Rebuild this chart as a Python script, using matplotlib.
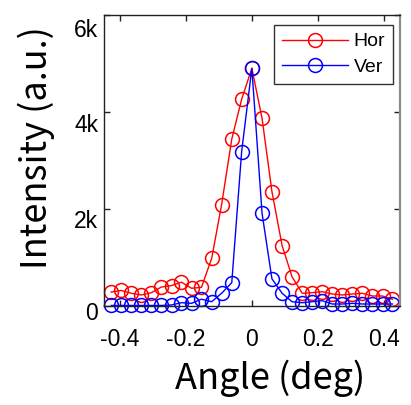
import matplotlib
matplotlib.use("Agg")
import matplotlib.pyplot as plt
import matplotlib.transforms as mtransforms

# angle (deg) of each sample
angle = [-0.427, -0.397, -0.366, -0.336, -0.305, -0.275, -0.244, -0.214,
         -0.183, -0.153, -0.122, -0.092, -0.061, -0.031, 0.0,
         0.031, 0.061, 0.092, 0.122, 0.153, 0.183, 0.214, 0.244,
         0.275, 0.305, 0.336, 0.366, 0.397, 0.427]

hor = [280, 315, 256, 221, 268, 385, 415, 485, 359, 379, 977, 2076, 3435, 4256, 4895,
       3864, 2351, 1237, 598, 256, 268, 289, 241, 221, 241, 256, 200, 200, 132]

ver = [5, 5, 5, 5, 5, 5, 15, 62, 49, 135, 82, 256, 474, 3176, 4895,
       1905, 555, 256, 82, 62, 82, 103, 35, 35, 49, 35, 35, 35, 35]

x_ticks = [-0.4, -0.2, 0, 0.2, 0.4]
x_tick_labels = ["-0.4", "-0.2", "0", "0.2", "0.4"]
y_ticks = [0, 2000, 4000, 6000]
y_tick_labels = ["0", "2k", "4k", "6k"]

W, H = 411, 405
fig = plt.figure(figsize=(W / 100, H / 100), dpi=100)
ax = fig.add_axes([103.7 / W, 1 - 305.7 / H, (400 - 103.7) / W, (305.7 - 14.7) / H])

marker_kw = dict(marker="o", markersize=10, markerfacecolor="none",
                 markeredgewidth=1.1, linewidth=1.0, clip_on=False)
ax.plot(angle, hor, color="red", label="Hor", **marker_kw)
ax.plot(angle, ver, color="blue", label="Ver", **marker_kw)

ax.set_xlim(-0.45, 0.45)
ax.set_ylim(0, 6000)
ax.set_xticks(x_ticks)
ax.set_xticklabels(x_tick_labels)
ax.set_yticks(y_ticks)
ax.set_yticklabels(y_tick_labels)

tick_font = "Liberation Sans"
ax.tick_params(direction="in", top=True, right=True, length=4, width=1,
               labelsize=16.5, color="#222222")
ax.tick_params(axis="x", pad=16)
ax.tick_params(axis="y", pad=4)
for label in ax.get_xticklabels() + ax.get_yticklabels():
    label.set_fontfamily(tick_font)

# the y labels sit a little below their ticks in the reference
for label, drop in zip(ax.get_yticklabels(), [5, 10.5, 11.5, 13]):
    shift = mtransforms.ScaledTranslation(0, -drop / 100, fig.dpi_scale_trans)
    label.set_transform(label.get_transform() + shift)

for side in ("left", "bottom", "top"):
    ax.spines[side].set_color("#222222")
    ax.spines[side].set_linewidth(1.0)
ax.spines["right"].set_color("#8c8c8c")
ax.spines["right"].set_linewidth(1.6)

label_font = ["Noto Sans CJK KR", "DejaVu Sans"]
fig.text(270 / W, 1 - 389 / H, "Angle (deg)", ha="center", va="baseline",
         fontsize=26, family=label_font)
fig.text(36 / W, 1 - 148 / H, "Intensity (a.u.)", ha="center", va="center",
         rotation=90, fontsize=26, family=label_font)

leg = ax.legend(loc="upper right", bbox_to_anchor=(393 / W, 1 - 25 / H),
                bbox_transform=fig.transFigure, borderaxespad=0,
                prop={"family": tick_font, "size": 14}, handlelength=3.4,
                handletextpad=0.3, labelspacing=0.4, borderpad=0.4,
                fancybox=False, framealpha=1, edgecolor="#333333")
leg.get_frame().set_linewidth(1.0)

fig.savefig("out.png", dpi=100)
